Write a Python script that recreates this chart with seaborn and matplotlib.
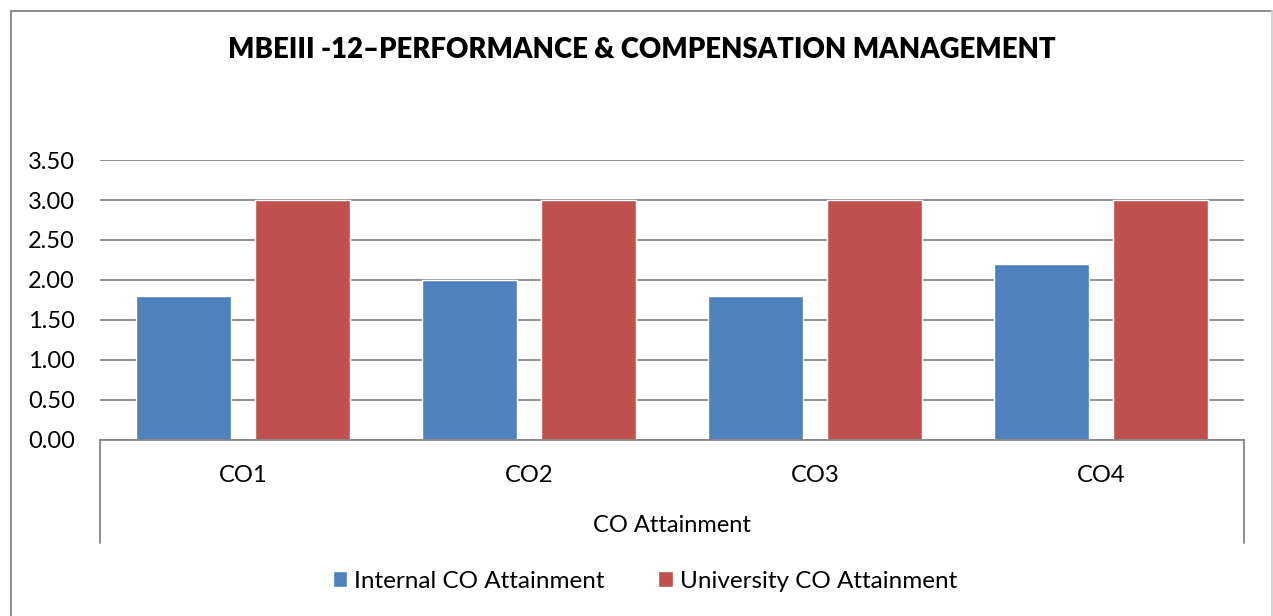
import matplotlib
matplotlib.use("Agg")
import matplotlib.pyplot as plt
import seaborn as sns
import pandas as pd
from matplotlib.lines import Line2D

# data
categories = ["CO1", "CO2", "CO3", "CO4"]
internal = [1.8, 2.0, 1.8, 2.2]
university = [3.0, 3.0, 3.0, 3.0]
series_names = ["Internal CO Attainment", "University CO Attainment"]
colors = ["#4F81BD", "#C0504D"]
yticks = [0.0, 0.5, 1.0, 1.5, 2.0, 2.5, 3.0, 3.5]

df = pd.DataFrame({"Category": categories,
                   series_names[0]: internal,
                   series_names[1]: university})
df = df.melt(id_vars="Category", var_name="Series", value_name="Value")

sns.set_theme(style="white")
plt.rcParams["font.family"] = ["Lato", "DejaVu Sans"]
plt.rcParams["text.color"] = "black"

W, H = 1273, 616
fig = plt.figure(figsize=(W / 100, H / 100), dpi=100)
ax = fig.add_axes([100 / W, 1 - 440 / H, 1144 / W, 280 / H])

sns.barplot(data=df, x="Category", y="Value", hue="Series", palette=colors,
            width=0.832, gap=0.2, saturation=1, ax=ax)

grey = "#868686"
fs = 17
ax.set_ylim(0, 3.5)
ax.set_xlim(-0.5, 3.5)
ax.set_yticks(yticks)
ax.set_yticklabels([f"{v:.2f}" for v in yticks])
ax.yaxis.grid(True, color=grey, lw=1.3)
ax.set_axisbelow(True)
for s in ["top", "right", "left"]:
    ax.spines[s].set_visible(False)
ax.spines["bottom"].set_color(grey)
ax.spines["bottom"].set_linewidth(1.3)
ax.tick_params(axis="both", length=0, labelsize=fs, colors="black")
ax.tick_params(axis="x", pad=18)
ax.tick_params(axis="y", pad=18)
ax.set_xlabel("")
ax.set_ylabel("")

# legend at the bottom
handles, labels = ax.get_legend_handles_labels()
ax.get_legend().remove()
fig.legend(handles, labels, loc="center", bbox_to_anchor=(645 / W, 1 - 581 / H),
           ncol=2, frameon=False, fontsize=17.5, handlelength=0.6,
           handleheight=0.6, handletextpad=0.3, columnspacing=2.2)

# multi-level axis lines and label
for xp in (100, 1244):
    fig.add_artist(Line2D([xp / W, xp / W], [1 - 440 / H, 1 - 543 / H],
                          color=grey, lw=1.3))
fig.text(672 / W, 1 - 525 / H, "CO Attainment", ha="center", va="center",
         fontsize=fs)

# title
fig.text(642 / W, 1 - 50 / H, "MBEIII -12\u2013PERFORMANCE & COMPENSATION MANAGEMENT",
         ha="center", va="center", fontsize=19.8, fontweight="heavy")

# chart border
fig.add_artist(Line2D([10.5 / W, 10.5 / W], [0, 1 - 10.5 / H], color=grey, lw=1.3))
fig.add_artist(Line2D([10.5 / W, 1271.5 / W], [1 - 10.5 / H, 1 - 10.5 / H], color=grey, lw=1.3))
fig.add_artist(Line2D([1271.5 / W, 1271.5 / W], [0, 1 - 10.5 / H], color="#d0d0d0", lw=1.3))

fig.savefig("out.png", dpi=100)
